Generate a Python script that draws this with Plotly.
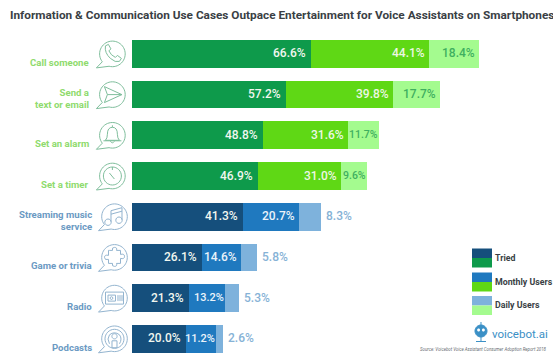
import re
import numpy as np
import plotly.graph_objects as go

W, H = 553, 354

categories = ["Call someone", "Send a<br>text or email", "Set an alarm", "Set a timer",
              "Streaming music<br>service", "Game or trivia", "Radio", "Podcasts"]
tried = [66.6, 57.2, 48.8, 46.9, 41.3, 26.1, 21.3, 20.0]
monthly = [44.1, 39.8, 31.6, 31.0, 20.7, 14.6, 13.2, 11.2]
daily = [18.4, 17.7, 11.7, 9.6, 8.3, 5.8, 5.3, 2.6]
is_comm = [True, True, True, True, False, False, False, False]

title = "Information & Communication Use Cases Outpace Entertainment for Voice Assistants on Smartphones"
source = "Source: Voicebot Voice Assistant Consumer Adoption Report 2018"
legend_labels = ["Tried", "Monthly Users", "Daily Users"]

GREENS = ["#0E9A4B", "#5FD815", "#A4FB8F"]
BLUES = ["#154F7C", "#1F79BF", "#7EB2DC"]
FONT = "Roboto"
DARK = "#3A3F45"

# axis scale: px = X0 + PX_PER_UNIT * value, py = Y0 + ROW * index
X0, PX_PER_UNIT, Y0, ROW = 132, 2.686, 53.9, 40.7
x_range = [-X0 / PX_PER_UNIT, (W - X0) / PX_PER_UNIT]
y_range = [(H - Y0) / ROW, -Y0 / ROW]
rows = list(range(len(categories)))

fig = go.Figure()
for i, name in enumerate(legend_labels):
    vals = [tried, monthly, daily][i]
    fig.add_trace(go.Bar(
        x=vals, y=rows, orientation="h", name=name, width=0.68, showlegend=False,
        marker=dict(color=[GREENS[i] if c else BLUES[i] for c in is_comm], line_width=0),
        hoverinfo="x+name",
    ))


def to_paper(path, ox, oy):
    """Shift a path written in page pixels around (ox, oy) into paper coordinates."""
    nums = iter(range(10 ** 6))

    def repl(m):
        v = float(m.group(0))
        if next(nums) % 2 == 0:
            return f"{(ox + v) / W:.5f}"
        return f"{1 - (oy + v) / H:.5f}"

    return re.sub(r"-?\d+\.?\d*", repl, path)


def circle(cx, cy, r):
    k = 0.5523 * r
    return (f"M {cx + r} {cy} C {cx + r} {cy + k} {cx + k} {cy + r} {cx} {cy + r} "
            f"C {cx - k} {cy + r} {cx - r} {cy + k} {cx - r} {cy} "
            f"C {cx - r} {cy - k} {cx - k} {cy - r} {cx} {cy - r} "
            f"C {cx + k} {cy - r} {cx + r} {cy - k} {cx + r} {cy} Z ")


def bubble(r=12.8):
    # speech bubble: most of a circle with a tail at the lower left
    pts = [(r * np.cos(np.radians(a)), r * np.sin(np.radians(a))) for a in np.linspace(105, -218, 44)]
    return "M " + " L ".join(f"{x:.2f} {y:.2f}" for x, y in pts) + " L -16 14 Z "


GLYPHS = {
    "phone": "M -7 -8 L -4 -9.5 L -1.5 -5 L -3.5 -3 Q -1.5 1.5 3 3.5 L 5 1.5 L 9 4.5 L 7 7.5 "
             "Q 3 9 -2 4.5 Q -8 -1 -7 -8 Z",
    "send": "M -8 -8 L 9.5 0 L -8 8 L -5 0 Z M -5 0 L 9.5 0",
    "bell": "M -7 5 Q -5 3 -5 -1 Q -5 -8 0 -8 Q 5 -8 5 -1 Q 5 3 7 5 Z M -9 5.5 L 9 5.5 "
            "M -2 6 Q 0 9 2 6 M 0 -8 L 0 -10",
    "timer": circle(0, 0, 9) + "M 0 -9 L 0 -6 M -3 -3 L 2 3",
    "music": "M -3.5 5 L -3.5 -6 L 7.5 -9 L 7.5 3 M -3.5 -2.5 L 7.5 -5.5 "
             + circle(-6.5, 5.5, 3.2) + circle(4.5, 3.5, 3.2),
    "puzzle": "M -5 -7 L -2 -7 Q -3 -10 0 -10 Q 3 -10 2 -7 L 6 -7 L 6 -3 Q 10 -4 10 -1 Q 10 2 6 1 "
              "L 6 6 L 2 6 Q 3 9 0 9 Q -3 9 -2 6 L -6 6 L -6 2 Q -10 3 -10 0 Q -10 -3 -6 -2 L -6 -7 Z",
    "radio": "M -9 -6 L 9 -6 L 9 6 L -9 6 Z M -6.5 -3 L 1 -3 L 1 3 L -6.5 3 Z " + circle(-3, 0, 1.4)
             + "M 3.5 -3 L 3.5 3 M 5.5 -3 L 5.5 3 M 7.5 -3 L 7.5 3",
    "podcast": circle(0, 0, 9.5) + "M -5 5 Q -8 0 -5 -4 Q 0 -8 5 -4 Q 8 0 5 5 " + circle(0, -2.5, 2.6)
               + "M -2.5 2 L 2.5 2 L 2.5 9 L -2.5 9 Z",
}
icons = ["phone", "send", "bell", "timer", "music", "puzzle", "radio", "podcast"]

annotations = []


def note(text, x, y, size, color, anchor="center", weight=500, italic=False, xref="x", yref="y",
         xshift=0, yshift=0, family=FONT):
    if italic:
        text = f"<i>{text}</i>"
    annotations.append(dict(text=text, x=x, y=y, xref=xref, yref=yref, xanchor=anchor, yanchor="middle",
                            xshift=xshift, yshift=yshift, showarrow=False, align=anchor,
                            font=dict(family=family, size=size, color=color, weight=weight)))


VALUE_SIZE = 12
shapes = []
for r, cat in enumerate(categories):
    comm = is_comm[r]
    # value labels: narrow segments get a slightly smaller label set closer to the segment end
    t, m, d = tried[r], monthly[r], daily[r]
    note(f"{t:.1f}%", t, r, VALUE_SIZE, "#F1F7EF", "right", xshift=-3, yshift=0.5)
    note(f"{m:.1f}%", t + m, r, VALUE_SIZE if m >= 14 else 11, "#EDF7E4" if comm else "#EAF3FA", "right",
         xshift=-2 if m >= 14 else 1, yshift=0.5)
    if comm:
        wide = d > 12
        note(f"{d:.1f}%", t + m + d, r, VALUE_SIZE if wide else 10.5, "#3FAF5F", "right",
             xshift=-2 if wide else 1, yshift=0.5)
    else:
        note(f"{d:.1f}%", t + m + d, r, VALUE_SIZE, "#86B2D6", "left", xshift=3, yshift=0.5)

    # category labels, right-aligned beside the icon
    two_lines = "<br>" in cat
    note(cat, (91 if comm else 93.5) / W, r, 9.6, "#8FDB6E" if comm else "#6B9AC3", "right", weight=700,
         xref="paper", yshift=-(3.5 if two_lines else 8.5))

    # speech-bubble icons
    cx, cy = (112.4 if comm else 114.5), Y0 + ROW * r
    stroke = "#7FBE9C" if comm else "#93B4CF"
    for p in (bubble(), GLYPHS[icons[r]]):
        shapes.append(dict(type="path", xref="paper", yref="paper", path=to_paper(p, cx, cy),
                           line=dict(color=stroke, width=1), fillcolor="rgba(0,0,0,0)", layer="above"))

# title
note(title, 281.5 / W, 1 - 15.5 / H, 11.8, DARK, "center", xref="paper", yref="paper", weight=700)

# two-tone legend swatches
leg_tops = [248.5, 272.5, 296]
for top, lab, b, g in zip(leg_tops, legend_labels, BLUES, GREENS):
    shapes.append(dict(type="rect", xref="paper", yref="paper", x0=472 / W, x1=492 / W,
                       y0=1 - top / H, y1=1 - (top + 9.5) / H, fillcolor=b, line_width=0))
    shapes.append(dict(type="rect", xref="paper", yref="paper", x0=472 / W, x1=492 / W,
                       y0=1 - (top + 9.5) / H, y1=1 - (top + 19) / H, fillcolor=g, line_width=0))
    note(lab, 493 / W, 1 - (top + 9) / H, 8.8, DARK, "left", xref="paper", yref="paper", weight=700)

# voicebot.ai badge
LOGO = "#3B90C6"
shapes.append(dict(type="path", xref="paper", yref="paper", fillcolor=LOGO, line=dict(color=LOGO, width=1),
                   path=to_paper(circle(0, 0, 6) + "M 0 -6 L 0 -9", 481, 331)))
shapes.append(dict(type="path", xref="paper", yref="paper", fillcolor="rgba(0,0,0,0)",
                   line=dict(color=LOGO, width=1), path=to_paper("M 0 6 L 0 10 M -5 10.5 L 5 10.5", 481, 331)))
shapes.append(dict(type="path", xref="paper", yref="paper", fillcolor="#FFFFFF", line_width=0,
                   path=to_paper(circle(-2.4, -1, 1.5) + circle(2.4, -1, 1.5), 481, 331)))
note("voicebot.ai", 490 / W, 1 - 334 / H, 11.5, LOGO, "left", weight=400, xref="paper", yref="paper")
note(source, 549 / W, 1 - 349.5 / H, 4.4, "#6A6F75", "right", weight=400, italic=True,
     xref="paper", yref="paper")

fig.update_layout(
    barmode="stack", width=W, height=H, margin=dict(l=0, r=0, t=0, b=0),
    paper_bgcolor="white", plot_bgcolor="white",
    xaxis=dict(range=x_range, visible=False, fixedrange=True),
    yaxis=dict(range=y_range, visible=False, fixedrange=True),
    annotations=annotations, shapes=shapes, showlegend=False,
)
fig.write_html("out.html", config=dict(displayModeBar=False))
